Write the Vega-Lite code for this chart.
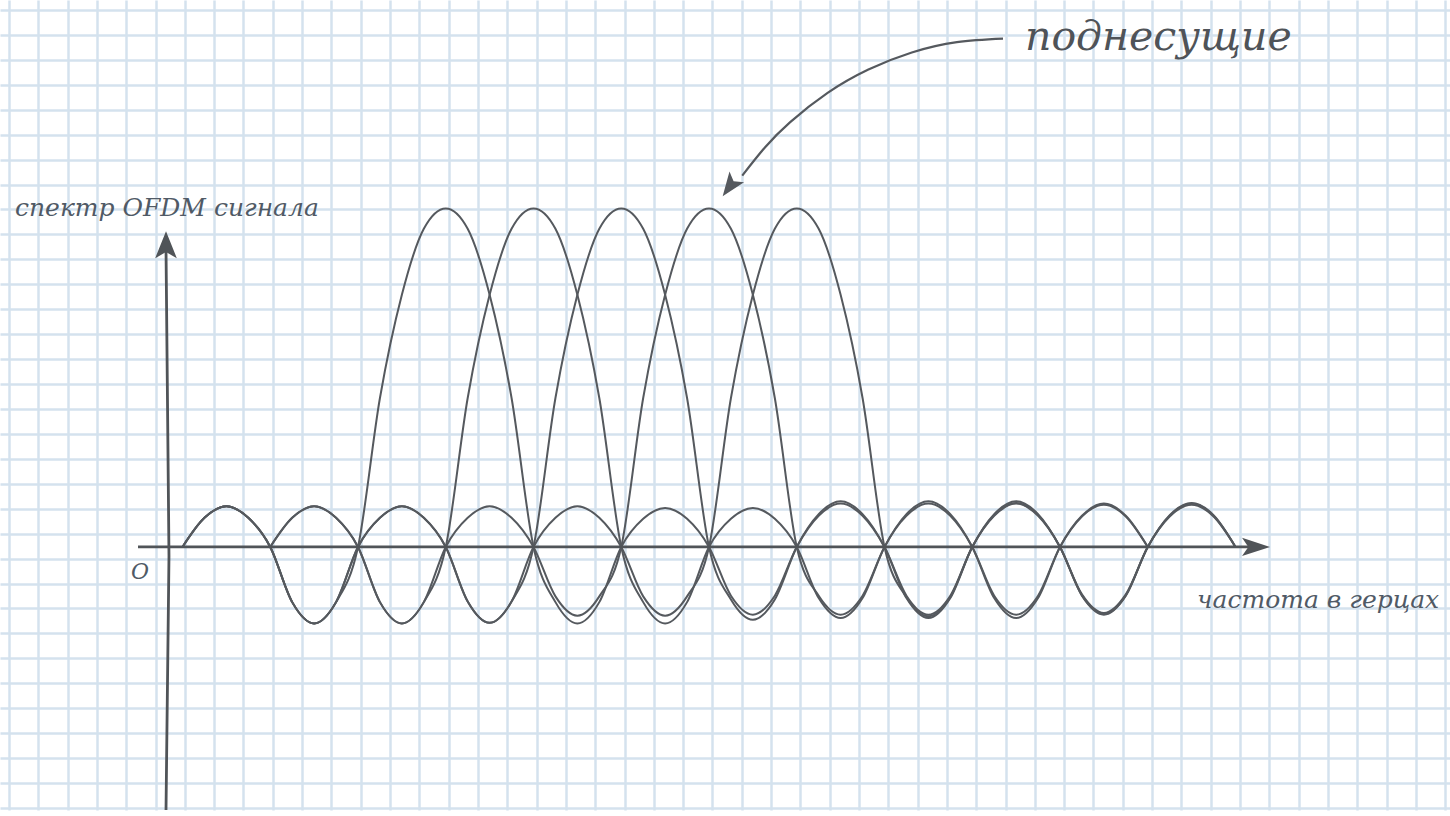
{
  "$schema": "https://vega.github.io/schema/vega-lite/v6.json",
  "width": 1450,
  "height": 816,
  "padding": 0,
  "autosize": {"type": "fit", "contains": "padding"},
  "background": "#ffffff",
  "config": {
    "view": {"stroke": null},
    "axis": {"labels": false, "ticks": false, "domain": false, "grid": true, "gridColor": "#d4e2ee", "gridWidth": 2.5, "gridOpacity": 1, "minExtent": 0, "maxExtent": 0, "title": null}
  },
  "datasets": {
    "curves": [
      {"x": 0, "f3": 0, "f5": 0, "f7": 0},
      {"x": 0.25, "f3": 0.086, "f5": 0.086, "f7": 0.086},
      {"x": 0.5, "f3": 0.12, "f5": 0.12, "f7": 0.12},
      {"x": 0.75, "f3": 0.086, "f5": 0.086, "f7": 0.086},
      {"x": 1, "f3": 0, "f4": 0, "f5": 0, "f6": 0, "f7": 0},
      {"x": 1.25, "f3": -0.163, "f4": 0.086, "f5": -0.163, "f6": 0.086, "f7": -0.163},
      {"x": 1.5, "f3": -0.226, "f4": 0.12, "f5": -0.226, "f6": 0.12, "f7": -0.226},
      {"x": 1.75, "f3": -0.163, "f4": 0.086, "f5": -0.163, "f6": 0.086, "f7": -0.163},
      {"x": 2, "f3": 0, "f4": 0, "f5": 0, "f6": 0, "f7": 0},
      {"x": 2.25, "f3": 0.44, "f4": -0.163, "f5": 0.086, "f6": -0.163, "f7": 0.086},
      {"x": 2.5, "f3": 0.745, "f4": -0.226, "f5": 0.12, "f6": -0.226, "f7": 0.12},
      {"x": 2.75, "f3": 0.94, "f4": -0.163, "f5": 0.086, "f6": -0.163, "f7": 0.086},
      {"x": 3, "f3": 1, "f4": 0, "f5": 0, "f6": 0, "f7": 0},
      {"x": 3.25, "f3": 0.94, "f4": 0.44, "f5": -0.161, "f6": 0.086, "f7": -0.161},
      {"x": 3.5, "f3": 0.745, "f4": 0.745, "f5": -0.224, "f6": 0.12, "f7": -0.224},
      {"x": 3.75, "f3": 0.44, "f4": 0.94, "f5": -0.161, "f6": 0.086, "f7": -0.161},
      {"x": 4, "f3": 0, "f4": 1, "f5": 0, "f6": 0, "f7": 0},
      {"x": 4.25, "f3": -0.163, "f4": 0.94, "f5": 0.44, "f6": -0.146, "f7": 0.086},
      {"x": 4.5, "f3": -0.226, "f4": 0.745, "f5": 0.745, "f6": -0.203, "f7": 0.12},
      {"x": 4.75, "f3": -0.163, "f4": 0.44, "f5": 0.94, "f6": -0.146, "f7": 0.086},
      {"x": 5, "f3": 0, "f4": 0, "f5": 1, "f6": 0, "f7": 0},
      {"x": 5.25, "f3": 0.083, "f4": -0.163, "f5": 0.94, "f6": 0.44, "f7": -0.146},
      {"x": 5.5, "f3": 0.115, "f4": -0.226, "f5": 0.745, "f6": 0.745, "f7": -0.203},
      {"x": 5.75, "f3": 0.083, "f4": -0.163, "f5": 0.44, "f6": 0.94, "f7": -0.146},
      {"x": 6, "f3": 0, "f4": 0, "f5": 0, "f6": 1, "f7": 0},
      {"x": 6.25, "f3": -0.144, "f4": 0.083, "f5": -0.155, "f6": 0.94, "f7": 0.44},
      {"x": 6.5, "f3": -0.2, "f4": 0.115, "f5": -0.215, "f6": 0.745, "f7": 0.745},
      {"x": 6.75, "f3": -0.144, "f4": 0.083, "f5": -0.155, "f6": 0.44, "f7": 0.94},
      {"x": 7, "f3": 0, "f4": 0, "f5": 0, "f6": 0, "f7": 1},
      {"x": 7.25, "f3": 0.092, "f4": -0.151, "f5": 0.097, "f6": -0.144, "f7": 0.94},
      {"x": 7.5, "f3": 0.128, "f4": -0.21, "f5": 0.135, "f6": -0.2, "f7": 0.745},
      {"x": 7.75, "f3": 0.092, "f4": -0.151, "f5": 0.097, "f6": -0.144, "f7": 0.44},
      {"x": 8, "f3": 0, "f4": 0, "f5": 0, "f6": 0, "f7": 0},
      {"x": 8.25, "f3": -0.144, "f4": 0.092, "f5": -0.151, "f6": 0.097, "f7": -0.148},
      {"x": 8.5, "f3": -0.2, "f4": 0.128, "f5": -0.21, "f6": 0.135, "f7": -0.205},
      {"x": 8.75, "f3": -0.144, "f4": 0.092, "f5": -0.151, "f6": 0.097, "f7": -0.148},
      {"x": 9, "f3": 0, "f4": 0, "f5": 0, "f6": 0, "f7": 0},
      {"x": 9.25, "f3": 0.094, "f4": -0.144, "f5": 0.097, "f6": -0.151, "f7": 0.092},
      {"x": 9.5, "f3": 0.13, "f4": -0.2, "f5": 0.135, "f6": -0.21, "f7": 0.128},
      {"x": 9.75, "f3": 0.094, "f4": -0.144, "f5": 0.097, "f6": -0.151, "f7": 0.092},
      {"x": 10, "f3": 0, "f4": 0, "f5": 0, "f6": 0, "f7": 0},
      {"x": 10.25, "f3": -0.14, "f4": 0.09, "f5": -0.143, "f6": 0.092, "f7": -0.144},
      {"x": 10.5, "f3": -0.195, "f4": 0.125, "f5": -0.198, "f6": 0.128, "f7": -0.2},
      {"x": 10.75, "f3": -0.14, "f4": 0.09, "f5": -0.143, "f6": 0.092, "f7": -0.144},
      {"x": 11, "f3": 0, "f4": 0, "f5": 0, "f6": 0, "f7": 0},
      {"x": 11.25, "f3": 0.094, "f5": 0.092, "f7": 0.09},
      {"x": 11.5, "f3": 0.13, "f5": 0.128, "f7": 0.125},
      {"x": 11.75, "f3": 0.094, "f5": 0.092, "f7": 0.09},
      {"x": 12, "f3": 0, "f5": 0, "f7": 0}
    ],
    "axes": [
      {"g": "freq", "o": 0, "x": -0.507, "y": 0},
      {"g": "freq", "o": 1, "x": 12.3, "y": 0},
      {"g": "amp", "o": 0, "x": -0.188, "y": -0.777},
      {"g": "amp", "o": 1, "x": -0.154, "y": -0.026},
      {"g": "amp", "o": 2, "x": -0.188, "y": 0.88}
    ],
    "arrow": [
      {"x": 9.3504, "y": 1.5015},
      {"x": 8.8251, "y": 1.4912},
      {"x": 8.3111, "y": 1.4607},
      {"x": 7.8165, "y": 1.4103},
      {"x": 7.3516, "y": 1.3413},
      {"x": 6.9254, "y": 1.2551},
      {"x": 6.637, "y": 1.1801},
      {"x": 6.3783, "y": 1.0968}
    ],
    "heads": [
      {"k": "freq", "x": 12.234, "y": 0},
      {"k": "amp", "x": -0.188, "y": 0.893},
      {"k": "sub", "x": 6.236, "y": 1.0645}
    ],
    "labels": [
      {"k": "amp", "x": -1.909, "y": 0.9765, "t": "спектр OFDM сигнала"},
      {"k": "freq", "x": 11.561, "y": -0.1818, "t": "частота в герцах"},
      {"k": "origin", "x": -0.484, "y": -0.0733, "t": "O"},
      {"k": "sub", "x": 9.601, "y": 1.4692, "t": "поднесущие"}
    ]
  },
  "encoding": {
    "x": {
      "field": "x", "type": "quantitative",
      "scale": {"domain": [-2.0798, 14.4444], "nice": false, "zero": false},
      "axis": {"title": null, "values": [-1.9772, -1.6432, -1.3092, -0.9751, -0.6411, -0.3071, 0.0269, 0.3609, 0.695, 1.029, 1.363, 1.697, 2.0311, 2.3651, 2.6991, 3.0331, 3.3672, 3.7012, 4.0352, 4.3692, 4.7033, 5.0373, 5.3713, 5.7053, 6.0394, 6.3734, 6.7074, 7.0414, 7.3755, 7.7095, 8.0435, 8.3775, 8.7116, 9.0456, 9.3796, 9.7136, 10.0477, 10.3817, 10.7157, 11.0497, 11.3838, 11.7178, 12.0518, 12.3858, 12.7199, 13.0539, 13.3879, 13.7219, 14.056, 14.39]}
    },
    "y": {
      "field": "y", "type": "quantitative",
      "scale": {"domain": [-0.7771, 1.6158], "nice": false, "zero": false},
      "axis": {"title": null, "values": [1.5865, 1.5128, 1.4391, 1.3655, 1.2918, 1.2181, 1.1444, 1.0707, 0.9971, 0.9234, 0.8497, 0.776, 0.7023, 0.6287, 0.555, 0.4813, 0.4076, 0.3339, 0.2603, 0.1866, 0.1129, 0.0392, -0.0345, -0.1081, -0.1818, -0.2555, -0.3292, -0.4029, -0.4765, -0.5502, -0.6239, -0.6976, -0.7713]}
    }
  },
  "layer": [
    {
      "data": {"name": "curves"},
      "transform": [
        {"fold": ["f3", "f4", "f5", "f6", "f7"], "as": ["s", "y"]},
        {"filter": {"field": "y", "valid": true}}
      ],
      "mark": {"type": "line", "interpolate": "monotone", "stroke": "#55595e", "strokeWidth": 2},
      "encoding": {"detail": {"field": "s", "type": "nominal"}}
    },
    {
      "data": {"name": "axes"},
      "mark": {"type": "line", "stroke": "#505458", "strokeWidth": 2.8},
      "encoding": {"detail": {"field": "g", "type": "nominal"}, "order": {"field": "o", "type": "quantitative"}}
    },
    {
      "data": {"name": "arrow"},
      "mark": {"type": "line", "interpolate": "natural", "stroke": "#55595e", "strokeWidth": 2.2},
      "encoding": {}
    },
    {
      "data": {"name": "heads"},
      "transform": [{"filter": "datum.k == 'freq'"}],
      "mark": {"type": "point", "shape": "M0,-1L-0.65,1L0,0.55L0.65,1Z", "size": 784, "angle": 90, "filled": true, "fill": "#505458", "opacity": 1, "strokeWidth": 0}
    },
    {
      "data": {"name": "heads"},
      "transform": [{"filter": "datum.k == 'amp'"}],
      "mark": {"type": "point", "shape": "M0,-1L-0.8,1L0,0.55L0.8,1Z", "size": 729, "angle": 0, "filled": true, "fill": "#505458", "opacity": 1, "strokeWidth": 0}
    },
    {
      "data": {"name": "heads"},
      "transform": [{"filter": "datum.k == 'sub'"}],
      "mark": {"type": "point", "shape": "M0,-1L-0.75,1L0,0.55L0.75,1Z", "size": 576, "angle": 216, "filled": true, "fill": "#55595e", "opacity": 1, "strokeWidth": 0}
    },
    {
      "data": {"name": "labels"},
      "transform": [{"filter": "datum.k == 'amp' || datum.k == 'freq'"}],
      "mark": {"type": "text", "align": "left", "baseline": "alphabetic", "font": "DejaVu Serif", "fontStyle": "italic", "fontSize": 25, "fill": "#505a66"},
      "encoding": {"text": {"field": "t", "type": "nominal"}}
    },
    {
      "data": {"name": "labels"},
      "transform": [{"filter": "datum.k == 'origin'"}],
      "mark": {"type": "text", "align": "center", "baseline": "middle", "font": "DejaVu Serif", "fontStyle": "italic", "fontSize": 22, "fill": "#505a66"},
      "encoding": {"text": {"field": "t", "type": "nominal"}}
    },
    {
      "data": {"name": "labels"},
      "transform": [{"filter": "datum.k == 'sub'"}],
      "mark": {"type": "text", "align": "left", "baseline": "alphabetic", "font": "DejaVu Serif", "fontStyle": "italic", "fontSize": 41, "fill": "#4f5358"},
      "encoding": {"text": {"field": "t", "type": "nominal"}}
    }
  ]
}
